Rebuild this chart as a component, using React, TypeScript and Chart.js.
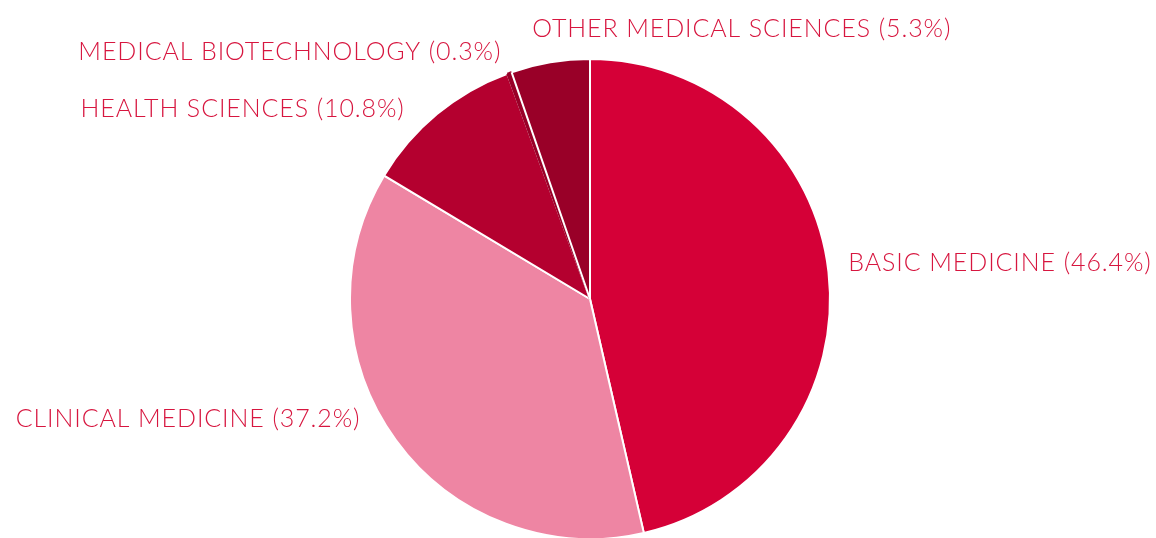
import React, { useEffect, useRef } from "react";
import { Chart, registerables } from "chart.js";

Chart.register(...registerables);

const categories = [
  "BASIC MEDICINE",
  "CLINICAL MEDICINE",
  "HEALTH SCIENCES",
  "MEDICAL BIOTECHNOLOGY",
  "OTHER MEDICAL SCIENCES",
];
const shares = [46.4, 37.2, 10.8, 0.3, 5.3];
const sliceColors = ["#d50037", "#ee85a3", "#b4002f", "#990028", "#990028"];
const sliceBorders = ["#ffffff", "#ffffff", "#ffffff", "#990028", "#ffffff"];
// label placement: text alignment and nudges relative to the anchor point just outside each slice
const labelAlign: CanvasTextAlign[] = ["left", "right", "right", "right", "left"];
const labelNudges: [number, number][] = [
  [-4, -8],
  [-16, -37],
  [-17, 11],
  [0, 0],
  [-14, -12],
];
const labelColor = "#d7163f";
const labelFont = "300 25px Lato";

const labelPlugin = {
  id: "outerLabels",
  afterDatasetsDraw(chart: any) {
    const ctx = chart.ctx;
    const meta = chart.getDatasetMeta(0);
    ctx.save();
    ctx.font = labelFont;
    (ctx as any).letterSpacing = "0.9px";
    ctx.fillStyle = labelColor;
    ctx.textBaseline = "alphabetic";
    meta.data.forEach((arc: any, i: number) => {
      const { x, y, startAngle, endAngle, outerRadius } = arc.getProps(
        ["x", "y", "startAngle", "endAngle", "outerRadius"],
        true
      );
      const mid = (startAngle + endAngle) / 2;
      const r = outerRadius * 1.1;
      const ax = x + Math.cos(mid) * r + labelNudges[i][0];
      const ay = y + Math.sin(mid) * r + labelNudges[i][1];
      ctx.textAlign = labelAlign[i];
      const text = `${categories[i]} (${shares[i].toFixed(1)}%)`;
      ctx.fillText(text, ax, ay + 10);
    });
    ctx.restore();
  },
};

export default function App() {
  const ref = useRef<HTMLCanvasElement | null>(null);
  useEffect(() => {
    if (!ref.current) return;
    const chart = new Chart(ref.current, {
      type: "pie",
      data: {
        labels: categories,
        datasets: [
          {
            data: shares,
            backgroundColor: sliceColors,
            borderColor: sliceBorders,
            borderWidth: 2,
          },
        ],
      },
      options: {
        animation: false,
        responsive: true,
        maintainAspectRatio: false,
        layout: { padding: { top: 58, bottom: 0, left: 349, right: 325 } },
        plugins: {
          legend: { display: false },
          tooltip: { enabled: false },
        },
      },
      plugins: [labelPlugin],
    });
    return () => chart.destroy();
  }, []);
  return (
    <div style={{ position: "fixed", left: 0, top: 0, width: 1156, height: 538, overflow: "hidden", background: "#fff" }}>
      <div style={{ position: "relative", width: 1156, height: 540 }}>
        <canvas ref={ref} />
      </div>
    </div>
  );
}
